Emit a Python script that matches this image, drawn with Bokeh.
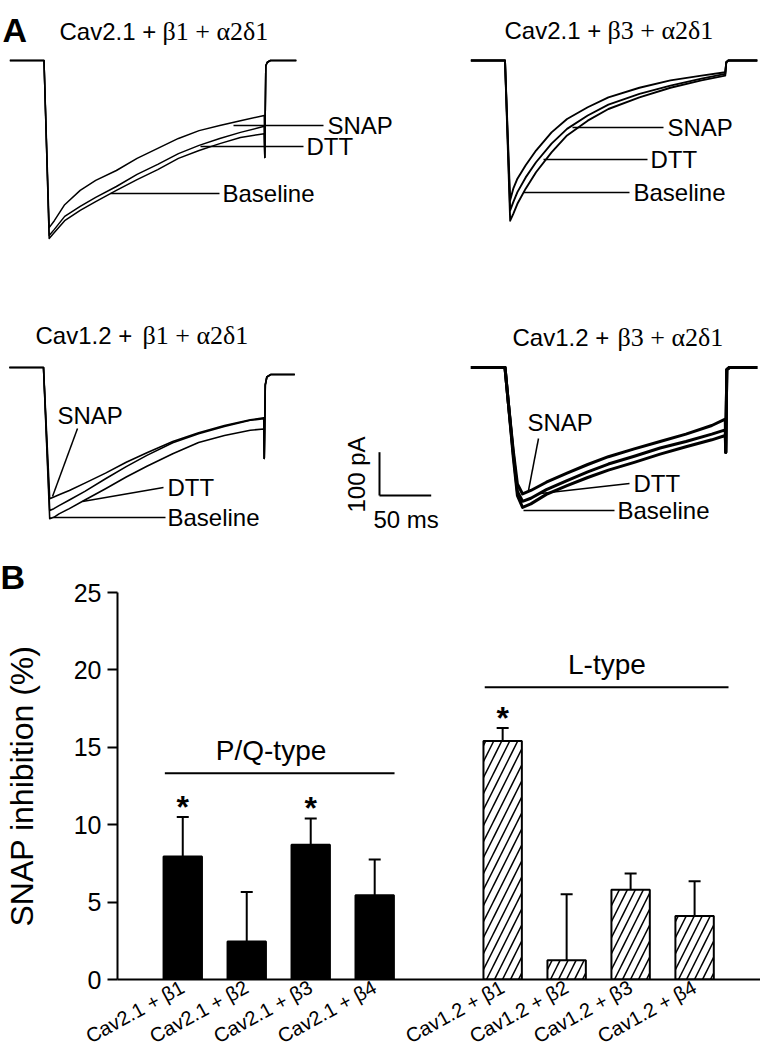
import math
from bokeh.plotting import figure
from bokeh.models import Range1d, FixedTicker, Whisker, TeeHead, ColumnDataSource, Title
from bokeh.layouts import column, row
from bokeh.embed import file_html
from bokeh.resources import INLINE
from bokeh.core.properties import value

SANS = "Liberation Sans"
SERIF = "Liberation Serif"

# ---------------- Panel A data (time in ms from pulse onset, current in pA) -------------
PRE_T = [-33, 0]
PRE_I = [0, 0]

TL_T = [5, 10, 20, 35, 50, 70, 90, 110, 130, 150, 170, 190, 213]
TL_SNAP = [-386, -370, -333, -300, -277, -254, -226, -203, -180, -162, -150, -139, -127]
TL_DTT = [-404, -390, -360, -337, -316, -291, -263, -240, -215, -196, -180, -166, -152]
TL_BASE = [-411, -397, -370, -346, -326, -300, -275, -252, -226, -208, -192, -178, -169]
TL_END_T = [213.5, 214.5, 216, 219, 244]
TL_END_I = [-224, -12, -4, 0, 0]

TR_T = [5, 8, 12, 20, 30, 45, 60, 80, 100, 130, 160, 190, 213]
TR_SNAP = [-323, -296, -273, -242, -208, -166, -135, -108, -85, -63, -46, -35, -27]
TR_DTT = [-346, -327, -304, -270, -235, -192, -158, -127, -102, -77, -58, -42, -31]
TR_BASE = [-370, -354, -331, -296, -258, -212, -173, -139, -112, -85, -63, -46, -35]
TR_END_T = [214, 216, 244]
TR_END_I = [-4, 0, 0]

BL_T = [6, 10, 15, 25, 40, 60, 80, 100, 125, 150, 175, 200, 213]
BL_SNAP = [-303, -299, -294, -284, -267, -244, -219, -197, -171, -151, -134, -121, -116]
BL_DTT = [-330, -326, -319, -306, -286, -257, -229, -203, -174, -153, -136, -122, -118]
BL_BASE = [-349, -346, -338, -326, -306, -280, -253, -228, -199, -173, -157, -145, -142]
BL_END_T = [213.5, 214.5, 216, 220, 243]
BL_END_I = [-210, -40, -22, -16, -16]

BR_T = [3, 8, 12, 17, 25, 40, 60, 80, 100, 125, 150, 175, 200, 213]
BR_SNAP = [-76, -192, -269, -292, -284, -265, -244, -224, -206, -188, -171, -154, -134, -119]
BR_DTT = [-76, -199, -286, -309, -302, -282, -261, -241, -223, -205, -186, -171, -154, -144]
BR_BASE = [-76, -207, -296, -323, -315, -293, -273, -254, -237, -219, -200, -183, -167, -157]
BR_END_T = [213.5, 214.5, 217, 244]
BR_END_I = [-196, -5, 0, 0]

SCALE_PA = 100
SCALE_MS = 50

# ---------------- Panel B data ----------------
CATEGORIES = ["Cav2.1 + β1", "Cav2.1 + β2", "Cav2.1 + β3", "Cav2.1 + β4",
              "Cav1.2 + β1", "Cav1.2 + β2", "Cav1.2 + β3", "Cav1.2 + β4"]
SLOTS = [1, 2, 3, 4, 6, 7, 8, 9]
INHIBITION = [7.95, 2.45, 8.7, 5.45, 15.4, 1.25, 5.8, 4.1]
SEM = [2.55, 3.2, 1.7, 2.3, 0.85, 4.25, 1.05, 2.25]
SIGNIFICANT = [True, False, True, False, True, False, False, False]
Y_TICKS = [0, 5, 10, 15, 20, 25]

# ---------------- layout constants ----------------
W = 760
HA = 550
HB = 1059 - HA
PX_PER_MS = 1.034
PX_PER_PA = 0.433

# ================= Panel A =================
pa = figure(width=W, height=HA, x_range=Range1d(0, W), y_range=Range1d(HA, 0),
            output_backend="svg", toolbar_location=None, min_border=0,
            x_axis_location=None, y_axis_location=None)
pa.grid.visible = False
pa.outline_line_color = None

panels = [
    (43.5, 60, TL_T, [TL_SNAP, TL_DTT, TL_BASE], TL_END_T, TL_END_I, 1.5),
    (504.5, 60, TR_T, [TR_SNAP, TR_DTT, TR_BASE], TR_END_T, TR_END_I, 1.9),
    (43, 367, BL_T, [BL_SNAP, BL_DTT, BL_BASE], BL_END_T, BL_END_I, 1.6),
    (504.5, 367, BR_T, [BR_SNAP, BR_DTT, BR_BASE], BR_END_T, BR_END_I, 3.0),
]
for x0, y0, T, traces, ET, EI, lw in panels:
    xs, ys = [], []
    for cur in traces:
        tt = PRE_T + T + ET
        ii = PRE_I + cur + EI
        xs.append([x0 + t * PX_PER_MS for t in tt])
        ys.append([y0 - i * PX_PER_PA for i in ii])
    pa.multi_line(xs=xs, ys=ys, line_color="black", line_width=lw, line_join="round")

# leader lines
lead_x0 = [233, 200, 110, 572, 543, 523, 77, 163, 53, 538, 629, 523]
lead_y0 = [125, 146, 193, 127, 159, 192, 428, 487, 517, 438, 483, 510]
lead_x1 = [323, 303, 219, 663, 647, 629, 52, 82, 165, 528, 540, 614]
lead_y1 = [125, 146, 193, 127, 159, 192, 496, 501, 517, 490, 493, 510]
pa.segment(x0=lead_x0, y0=lead_y0, x1=lead_x1, y1=lead_y1, line_color="black", line_width=1.5)

lab_x = [327, 306, 222, 667, 650, 633, 57, 167, 167, 527, 633, 617]
lab_y = [125, 146, 193, 127, 159, 192, 415, 487, 517, 422, 483, 510]
lab_t = ["SNAP", "DTT", "Baseline"] * 4
pa.text(x=lab_x, y=lab_y, text=lab_t, text_font=value(SANS), text_font_size="24px",
        text_baseline="middle", text_align="left", text_color="black")

# titles
pa.text(x=[59, 504, 35, 512], y=[31, 30, 335, 337],
        text=["Cav2.1 +", "Cav2.1 +", "Cav1.2 +", "Cav1.2 +"],
        text_font=value(SANS), text_font_size="24px", text_baseline="alphabetic",
        text_align="left", text_color="black")
pa.text(x=[162, 607, 142, 617], y=[31, 30, 335, 337],
        text=["β1 + α2δ1", "β3 + α2δ1", "β1 + α2δ1", "β3 + α2δ1"],
        text_font=value(SERIF), text_font_size="26px", text_baseline="alphabetic",
        text_align="left", text_color="black")

# scale bar
sbx, sby = 379, 495
pa.segment(x0=[sbx, sbx], y0=[sby, sby], x1=[sbx, sbx + SCALE_MS * PX_PER_MS],
           y1=[sby - SCALE_PA * PX_PER_PA, sby], line_color="black", line_width=2)
pa.text(x=[356], y=[474], text=[f"{SCALE_PA} pA"], angle=math.pi / 2,
        text_font=value(SANS), text_font_size="24px", text_align="center",
        text_baseline="middle", text_color="black")
pa.text(x=[373], y=[519], text=[f"{SCALE_MS} ms"], text_font=value(SANS),
        text_font_size="24px", text_align="left", text_baseline="middle", text_color="black")

pa.text(x=[2], y=[29], text=["A"], text_font=value(SANS), text_font_size="34px",
        text_font_style="bold", text_baseline="alphabetic", text_color="black")

# ================= Panel B =================
pb = figure(width=W, height=HB, x_range=Range1d(-0.02, 10.03), y_range=Range1d(0, 25),
            output_backend="svg", toolbar_location=None,
            min_border_left=117, min_border_right=0, min_border_top=42, min_border_bottom=80)
pb.grid.visible = False
pb.outline_line_color = None
pb.title = Title(text="B", align="left", offset=-117, standoff=-7,
                 text_font=SANS, text_font_size="34px", text_font_style="bold",
                 text_color="black")

pb.vbar(x=SLOTS[:4], top=INHIBITION[:4], width=0.6, bottom=0,
        fill_color="black", line_color="black", line_width=2)
pb.vbar(x=SLOTS[4:], top=INHIBITION[4:], width=0.6, bottom=0,
        fill_color="white", line_color="black", line_width=2,
        hatch_pattern="/", hatch_scale=16, hatch_weight=1.5, hatch_color="black")

upper = [v + e for v, e in zip(INHIBITION, SEM)]
src = ColumnDataSource(dict(x=SLOTS, lower=INHIBITION, upper=upper))
pb.add_layout(Whisker(source=src, base="x", lower="lower", upper="upper", dimension="height",
                      line_color="black", line_width=2, lower_head=None,
                      upper_head=TeeHead(size=12, line_width=2, line_color="black")))

star_x = [s for s, sig in zip(SLOTS, SIGNIFICANT) if sig]
star_y = [u + 0.65 for u, sig in zip(upper, SIGNIFICANT) if sig]
pb.text(x=star_x, y=star_y, text=["*"] * len(star_x), text_font=value(SANS),
        text_font_size="32px", text_font_style="bold", text_align="center",
        text_baseline="alphabetic", text_color="black")

pb.segment(x0=[0.72, 5.72], y0=[13.33, 18.88], x1=[4.31, 9.53], y1=[13.33, 18.88],
           line_color="black", line_width=2)
pb.text(x=[2.38, 7.63], y=[14.8, 20.35], text=["P/Q-type", "L-type"],
        text_font=value(SANS), text_font_size="28px", text_align="center",
        text_baseline="middle", text_color="black")

ya = pb.yaxis[0]
ya.ticker = FixedTicker(ticks=Y_TICKS)
ya.major_tick_out = 10
ya.major_tick_in = 0
ya.minor_tick_out = 0
ya.minor_tick_in = 0
ya.axis_line_width = 2
ya.major_tick_line_width = 2
ya.major_label_text_font = SANS
ya.major_label_text_font_size = "25px"
ya.major_label_text_color = "black"
ya.major_label_standoff = 6
ya.axis_label = "SNAP inhibition (%)"
ya.axis_label_text_font = SANS
ya.axis_label_text_font_size = "32px"
ya.axis_label_text_font_style = "normal"
ya.axis_label_text_color = "black"
ya.axis_label_standoff = 31

xa = pb.xaxis[0]
xa.ticker = FixedTicker(ticks=SLOTS)
xa.major_label_overrides = {s: c for s, c in zip(SLOTS, CATEGORIES)}
xa.major_label_orientation = 0.5
xa.major_tick_out = 0
xa.major_tick_in = 0
xa.minor_tick_out = 0
xa.minor_tick_in = 0
xa.axis_line_width = 2
xa.major_label_text_font = SANS
xa.major_label_text_font_size = "20px"
xa.major_label_text_color = "black"
xa.major_label_standoff = 6

layout = column(row(pa), row(pb), spacing=0)
open("out.html", "w").write(file_html(layout, INLINE))
